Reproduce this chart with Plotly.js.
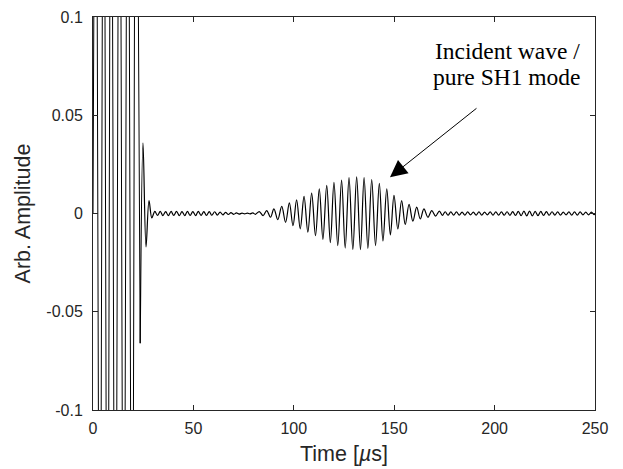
<!DOCTYPE html>
<html>
<head>
<meta charset="utf-8">
<script src="https://cdn.plot.ly/plotly-3.0.1.min.js"></script>
<style>html,body{margin:0;padding:0;background:#fff;}#chart{width:623px;height:469px;}</style>
</head>
<body>
<div id="chart"></div>
<script>
// Saturated excitation part (values beyond the axis range are clipped by the axes)
var satTime = [0, 1.4, 3.4, 5.3, 7.2, 9.0, 11.1, 13.2, 15.3, 17.3, 19.5, 21.3, 23.5];
var satAmp  = [0, 0.35, -0.35, 0.35, -0.35, 0.35, -0.35, 0.35, -0.35, 0.35, -0.35, 0.35, -0.066];

// Remaining signal: extrema (time in µs, amplitude)
var sigTime = [
  23.5, 24.9, 26.4, 27.9, 29.3,
  30.8, 32.1, 33.5, 34.8, 36.2, 37.5, 38.9, 40.2, 41.6, 43.0, 44.3, 45.7, 47.0, 48.4, 49.7,
  51.1, 52.4, 53.8, 55.2, 56.5, 57.9, 59.2, 60.6, 61.9, 63.3, 64.7, 66.0, 67.4, 68.7, 70.1,
  71.4, 72.8, 74.2, 75.5, 76.9, 78.2, 79.6, 80.9,
  82.8, 84.7, 86.5, 88.4, 90.1, 92.0, 94.0, 95.9, 97.8, 99.6, 101.4, 103.2, 105.1, 107.0,
  108.9, 110.8, 112.7, 114.5, 116.4, 118.2, 120.0, 121.9, 123.8, 125.6, 127.5, 129.4,
  131.3, 133.2, 135.0, 136.9, 138.8, 140.7, 142.6, 144.4, 146.3, 148.1, 149.9, 151.8,
  153.7, 155.5, 157.4, 159.3, 161.2, 163.0, 164.8, 166.8, 168.7, 170.6, 172.5,
  174.0, 175.4, 176.8, 178.2, 179.6, 181.0, 182.4, 183.8, 185.2, 186.6, 188.0, 189.4,
  190.8, 192.2, 193.6, 195.0, 196.4, 197.8, 199.2, 200.6, 202.0, 203.4, 204.8, 206.2,
  207.6, 209.0, 210.4, 211.8, 213.2, 214.6, 216.0, 217.4, 218.8, 220.2, 221.6, 223.0,
  224.4, 225.8, 227.2, 228.6, 230.0, 231.4, 232.8, 234.2, 235.6, 237.0, 238.4, 239.8,
  241.2, 242.6, 244.0, 245.4, 246.8, 248.2, 249.6, 250.0
];
var sigAmp = [
  -0.066, 0.036, -0.017, 0.0066, -0.0022,
  0.0011, -0.0010, 0.0011, -0.0011, 0.0010, -0.0011, 0.0011, -0.0010, 0.0011, -0.0011, 0.0010, -0.0011, 0.0011, -0.0010, 0.0010,
  -0.0011, 0.0011, -0.0010, 0.0010, -0.0010, 0.0010, -0.0009, 0.0009, -0.0008, 0.0007, -0.0007, 0.0006, -0.0005, 0.0004, -0.0004,
  0.0003, -0.0003, 0.0002, -0.0002, 0.0002, -0.0002, 0.0003, -0.0004,
  0.0010, -0.0011, 0.0015, -0.0019, 0.0024, -0.0031, 0.0036, -0.0045, 0.0054, -0.0062, 0.0070, -0.0078, 0.0087, -0.0095,
  0.0104, -0.0113, 0.0125, -0.0132, 0.0143, -0.0148, 0.0158, -0.0163, 0.0170, -0.0176, 0.0183, -0.0183,
  0.0186, -0.0184, 0.0183, -0.0177, 0.0173, -0.0163, 0.0154, -0.0140, 0.0126, -0.0109, 0.0092, -0.0079,
  0.0066, -0.0056, 0.0046, -0.0039, 0.0032, -0.0028, 0.0024, -0.0019, 0.0015, -0.0013, 0.0012,
  -0.0010, 0.0009, -0.0009, 0.0008, -0.0008, 0.0008, -0.0008, 0.0007, -0.0008, 0.0008, -0.0007, 0.0007,
  -0.0008, 0.0008, -0.0008, 0.0007, -0.0007, 0.0008, -0.0008, 0.0008, -0.0008, 0.0008, -0.0009, 0.0009,
  -0.0009, 0.0010, -0.0010, 0.0011, -0.0011, 0.0012, -0.0012, 0.0012, -0.0012, 0.0011, -0.0011, 0.0011,
  -0.0010, 0.0010, -0.0009, 0.0009, -0.0008, 0.0008, -0.0008, 0.0007, -0.0007, 0.0008, -0.0008, 0.0008,
  -0.0008, 0.0008, -0.0007, 0.0007, -0.0007, 0.0007, -0.0006, 0.0000
];

var xTickVals = [0, 50, 100, 150, 200, 250];
var xTickText = ['0', '50', '100', '150', '200', '250'];
var yTickVals = [-0.1, -0.05, 0, 0.05, 0.1];
var yTickText = ['-0.1', '-0.05', '0', '0.05', '0.1'];

var axisColor = '#262626';
var tickFont = {family: 'Liberation Sans, Arial, sans-serif', size: 16, color: axisColor};
var titleFont = {family: 'Liberation Sans, Arial, sans-serif', size: 21.5, color: axisColor};
var noteFont = {family: 'Liberation Serif, Times New Roman, serif', size: 23.5, color: '#000000'};

var traces = [
  {x: satTime, y: satAmp, type: 'scatter', mode: 'lines',
   line: {color: '#000000', width: 1, shape: 'linear'}, hoverinfo: 'skip', showlegend: false},
  {x: sigTime, y: sigAmp, type: 'scatter', mode: 'lines',
   line: {color: '#000000', width: 1.2, shape: 'spline', smoothing: 1}, hoverinfo: 'skip', showlegend: false}
];

var layout = {
  width: 623, height: 469,
  margin: {l: 93, r: 28, t: 17, b: 59},
  paper_bgcolor: '#ffffff', plot_bgcolor: '#ffffff',
  showlegend: false,
  xaxis: {
    range: [0, 250], tickvals: xTickVals, ticktext: xTickText,
    ticks: 'inside', ticklen: 5, tickcolor: axisColor, tickwidth: 1,
    showline: true, linecolor: axisColor, linewidth: 1, mirror: 'ticks',
    showgrid: false, zeroline: false, tickfont: tickFont, ticklabelstandoff: 4,
    title: {text: 'Time [<i>µ</i>s]', font: titleFont, standoff: 9}
  },
  yaxis: {
    range: [-0.1, 0.1], tickvals: yTickVals, ticktext: yTickText,
    ticks: 'inside', ticklen: 5, tickcolor: axisColor, tickwidth: 1,
    showline: true, linecolor: axisColor, linewidth: 1, mirror: 'ticks',
    showgrid: false, zeroline: false, tickfont: tickFont, ticklabelstandoff: 6,
    title: {text: 'Arb. Amplitude', font: titleFont, standoff: 9}
  },
  annotations: [
    {x: 147.9, y: 0.0185, xref: 'x', yref: 'y', text: '', showarrow: true,
     ax: 88, ay: -70, arrowhead: 2, arrowsize: 3.4, arrowwidth: 1, arrowcolor: '#000000'},
    {x: 206.4, y: 0.0825, xref: 'x', yref: 'y', showarrow: false, yanchor: 'middle',
     text: 'Incident wave /', font: noteFont},
    {x: 206.4, y: 0.0695, xref: 'x', yref: 'y', showarrow: false, yanchor: 'middle',
     text: 'pure SH1 mode', font: noteFont}
  ]
};

Plotly.newPlot('chart', traces, layout, {staticPlot: true, displayModeBar: false});
</script>
</body>
</html>
